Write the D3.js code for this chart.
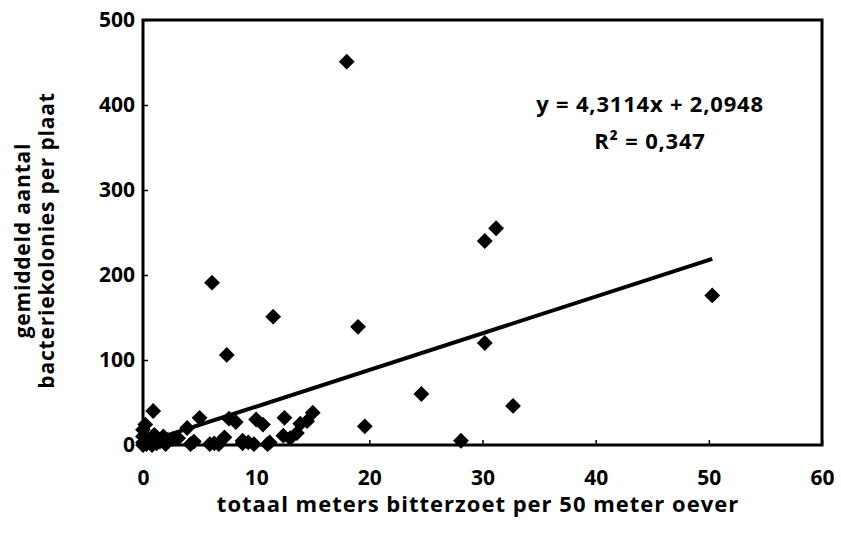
<!DOCTYPE html>
<html>
<head>
<meta charset="utf-8">
<script src="https://cdn.jsdelivr.net/npm/d3@7"></script>
<style>
  body { margin: 0; background: #fff; overflow: hidden; }
  svg { display: block; }
  text { font-family: "Open Sans", sans-serif; font-weight: bold; fill: #000; }
</style>
</head>
<body>
<div id="chart"></div>
<script>
// meters bitterzoet (x) and bacteria colonies (y)
const xVals = [18, 31.2, 30.2, 50.3, 6.1, 11.5, 19, 7.4, 30.2, 24.6, 32.7, 28.1, 19.6,
    15, 13.9, 13.6, 12.5, 12.4, 11, 10.6, 10, 8.8, 8.2, 7.6, 7.2, 6.7, 5.9, 5, 4.2, 3.9,
    3.1, 2.2, 0.9, 0, 0, 0, 0, 0.3, 0.5, 0.8, 1, 1.2, 1.5, 2, 2.6, 3, 0.2, 9.3, 11.2,
    8.8, 6.3, 4.5, 13, 14.5, 1.8, 9.8];
const yVals = [451, 255, 240, 176, 191, 151, 139, 106, 120, 60, 46, 5, 22,
    38, 25, 14, 32, 11, 1, 24, 30, 2, 27, 31, 9, 1, 1, 32, 1, 20,
    8, 6, 40, 18, 10, 3, 0, 1, 6, 0, 12, 2, 4, 1, 7, 8, 24, 3, 3,
    5, 2, 4, 8, 28, 10, 1];
const xTicks = [0, 10, 20, 30, 40, 50, 60];
const yTicks = [0, 100, 200, 300, 400, 500];
const slope = 4.3114, intercept = 2.0948;
const eqLines = ["y = 4,3114x + 2,0948", "R² = 0,347"];
const yLabelLines = ["gemiddeld aantal", "bacteriekolonies per plaat"];
const xLabel = "totaal meters bitterzoet per 50 meter oever";

const width = 841, height = 534;
const margin = { left: 143, right: 19, top: 20, bottom: 89 };
const innerWidth = width - margin.left - margin.right;
const innerHeight = height - margin.top - margin.bottom;

const svg = d3.select("#chart").append("svg")
    .attr("width", width)
    .attr("height", height);

const g = svg.append("g")
    .attr("transform", `translate(${margin.left},${margin.top})`);

const xScale = d3.scaleLinear().domain([0, 60]).range([0, innerWidth]);
const yScale = d3.scaleLinear().domain([0, 500]).range([innerHeight, 0]);

const xAxis = d3.axisBottom(xScale).tickValues(xTicks).tickSizeInner(-5).tickSizeOuter(0).tickPadding(25);
const yAxis = d3.axisLeft(yScale).tickValues(yTicks).tickSizeInner(-5).tickSizeOuter(0).tickPadding(8);

const xAxisG = g.append("g").attr("transform", `translate(0,${innerHeight})`).call(xAxis);
const yAxisG = g.append("g").call(yAxis);
[xAxisG, yAxisG].forEach(a => {
    a.select(".domain").remove();
    a.selectAll("line").attr("stroke", "#000").attr("stroke-width", 1.5);
    a.selectAll("text").style("font-size", "21px").style("font-family", "Open Sans, sans-serif");
});

// plot frame
g.append("rect")
    .attr("width", innerWidth)
    .attr("height", innerHeight)
    .attr("fill", "none")
    .attr("stroke", "#000")
    .attr("stroke-width", 3);

// points
const data = xVals.map((x, i) => ({ x: x, y: yVals[i] }));
const diamond = d3.symbol().type(d3.symbolSquare).size(125);
g.selectAll("path.pt").data(data)
    .enter()
    .append("path")
    .attr("class", "pt")
    .attr("d", diamond)
    .attr("fill", "#000")
    .attr("transform", d => `translate(${xScale(d.x)},${yScale(d.y)}) rotate(45)`);

// trendline
const xExt = d3.extent(xVals);
g.append("line")
    .attr("x1", xScale(xExt[0]))
    .attr("y1", yScale(slope * xExt[0] + intercept))
    .attr("x2", xScale(xExt[1]))
    .attr("y2", yScale(slope * xExt[1] + intercept))
    .attr("stroke", "#000")
    .attr("stroke-width", 4);

// equation
g.selectAll("text.eq").data(eqLines)
    .enter()
    .append("text")
    .attr("class", "eq")
    .attr("x", 507)
    .attr("y", (d, i) => 92 + i * 37)
    .attr("text-anchor", "middle")
    .style("font-size", "22px")
    .style("letter-spacing", "0.8px")
    .text(d => d);

// axis titles
svg.append("text")
    .attr("x", 478)
    .attr("y", 512)
    .attr("text-anchor", "middle")
    .style("font-size", "22px")
    .style("letter-spacing", "1px")
    .text(xLabel);

svg.selectAll("text.ylab").data(yLabelLines)
    .enter()
    .append("text")
    .attr("class", "ylab")
    .attr("transform", (d, i) => `translate(${30 + i * 24},${margin.top + innerHeight / 2 + 8}) rotate(-90)`)
    .attr("text-anchor", "middle")
    .style("font-size", "21px")
    .style("letter-spacing", "0.8px")
    .text(d => d);
</script>
</body>
</html>
